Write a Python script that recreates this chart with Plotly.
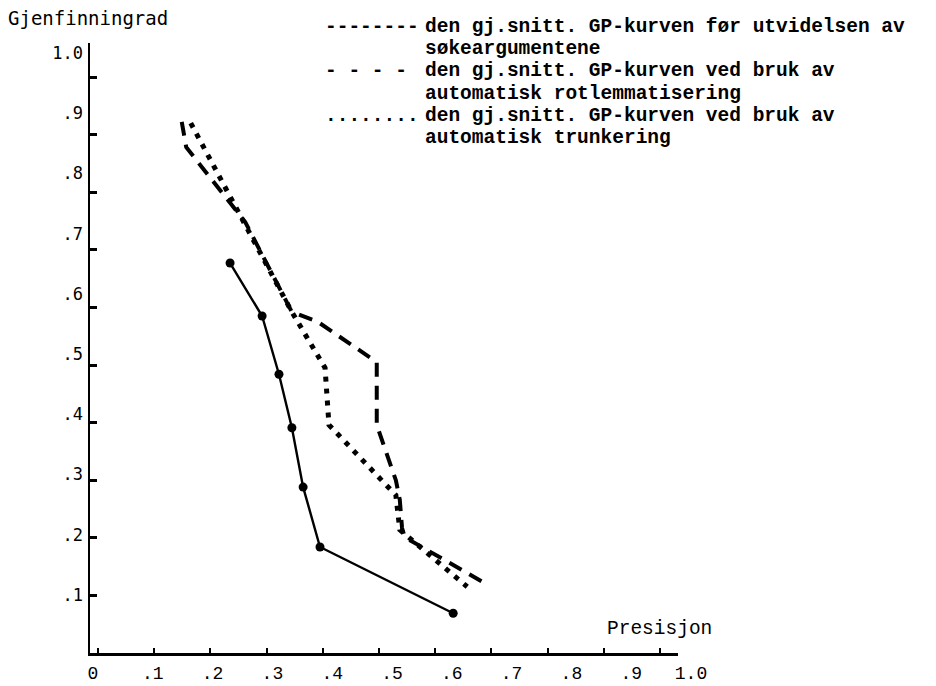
import plotly.graph_objects as go

# ---------------- data (precision = x, recall = y) ----------------
before_prec = [0.235, 0.292, 0.322, 0.345, 0.365, 0.395, 0.632]
before_rec = [0.677, 0.585, 0.484, 0.391, 0.288, 0.184, 0.069]

rotlem_prec = [0.149, 0.157, 0.217, 0.262, 0.345, 0.391, 0.496, 0.496, 0.530, 0.537, 0.541, 0.546, 0.685]
rotlem_rec = [0.922, 0.878, 0.804, 0.748, 0.592, 0.575, 0.505, 0.396, 0.300, 0.266, 0.217, 0.201, 0.123]

trunk_prec = [0.165, 0.345, 0.404, 0.411, 0.530, 0.537, 0.657]
trunk_rec = [0.920, 0.592, 0.495, 0.396, 0.274, 0.214, 0.115]

x_tick_vals = [0, 0.1, 0.2, 0.3, 0.4, 0.5, 0.6, 0.7, 0.8, 0.9, 1.0]
x_tick_text = ["0", ".1", ".2", ".3", ".4", ".5", ".6", ".7", ".8", ".9", "1.0"]
y_tick_vals = [0.1, 0.2, 0.3, 0.4, 0.5, 0.6, 0.7, 0.8, 0.9, 1.0]
y_tick_text = [".1", ".2", ".3", ".4", ".5", ".6", ".7", ".8", ".9", "1.0"]

y_title = "Gjenfinningrad"
x_title = "Presisjon"
legend_samples = ["--------", "- - - -", "........"]
legend_texts = [
    ["den gj.snitt. GP-kurven før utvidelsen av", "søkeargumentene"],
    ["den gj.snitt. GP-kurven ved bruk av", "automatisk rotlemmatisering"],
    ["den gj.snitt. GP-kurven ved bruk av", "automatisk trunkering"],
]

# ---------------- layout geometry (positions given in window pixels) ----------------
OFF = 8                      # page body margin of the browser
W, H = 936 - OFF, 686 - OFF  # figure size so the figure fills the window
AX_X, AX_Y = 90, 653         # y-axis line x, x-axis line y (window px)
TOP_PX, RIGHT_PX = 43, 700   # top of plot area, right end of label axis
L = AX_X - OFF
T = TOP_PX - OFF
R = (936 - RIGHT_PX)
B = H - (AX_Y - OFF)
PW, PH = W - L - R, H - T - B


def px2x(px):
    return (px - AX_X) / PW


def py2y(py):
    return (AX_Y - py) / PH


MONO = "Liberation Mono"
SANS_MONO = "DejaVu Sans Mono"
INK = "black"

fig = go.Figure()

# empty traces so that the label axes are drawn (added first, drawn below)
fig.add_trace(go.Scatter(x=[], y=[], xaxis="x2", yaxis="y", showlegend=False, hoverinfo="skip"))
fig.add_trace(go.Scatter(x=[], y=[], xaxis="x", yaxis="y2", showlegend=False, hoverinfo="skip"))

fig.add_trace(go.Scatter(
    x=before_prec, y=before_rec, mode="lines+markers",
    line=dict(color=INK, width=2.4),
    marker=dict(color=INK, size=9),
    showlegend=False, hoverinfo="skip"))

fig.add_trace(go.Scatter(
    x=rotlem_prec, y=rotlem_rec, mode="lines",
    line=dict(color=INK, width=4, dash="14px,9px"),
    showlegend=False, hoverinfo="skip"))

fig.add_trace(go.Scatter(
    x=trunk_prec, y=trunk_rec, mode="lines",
    line=dict(color=INK, width=5, dash="5px,7px"),
    showlegend=False, hoverinfo="skip"))

# data axes: tick marks placed as on the original drawing
x0_px, x_per_unit = 98, 562    # x tick "0" position and px per 1.0
y_per_unit = 576               # y px per 1.0
x_end_px = 678
fig.update_layout(
    xaxis=dict(domain=[0, (x_end_px - AX_X) / PW],
               range=[(AX_X - x0_px) / x_per_unit, (x_end_px - x0_px) / x_per_unit],
               anchor="y", showline=True, linecolor=INK, linewidth=2.5,
               ticks="inside", ticklen=5, tickwidth=1.5, tickcolor=INK,
               tickvals=x_tick_vals, showticklabels=False,
               showgrid=False, zeroline=False, automargin=False),
    yaxis=dict(domain=[0, 1], range=[0, PH / y_per_unit], anchor="x",
               showline=True, linecolor=INK, linewidth=2,
               ticks="inside", ticklen=7, tickwidth=2.5, tickcolor=INK,
               tickvals=y_tick_vals, showticklabels=False,
               showgrid=False, zeroline=False, automargin=False),
    # label axes: typed labels sit on a slightly wider scale
    xaxis2=dict(domain=[0, 1], anchor="y",
                range=[(AX_X - 93) / 598, (RIGHT_PX - 93) / 598],
                showline=False, ticks="", showgrid=False, zeroline=False,
                tickvals=x_tick_vals, ticktext=x_tick_text,
                tickfont=dict(family=MONO, size=18, color=INK),
                ticklabelstandoff=7, automargin=False),
    yaxis2=dict(overlaying="y", anchor="x", side="left",
                range=[(655 - AX_Y) / 602, (655 - TOP_PX) / 602],
                showline=False, ticks="", showgrid=False, zeroline=False,
                tickvals=y_tick_vals, ticktext=y_tick_text,
                tickfont=dict(family=SANS_MONO, size=17, color=INK),
                ticklabelstandoff=6, automargin=False),
)

annotations = []
annotations.append(dict(text=y_title, x=px2x(6), y=py2y(18), xref="paper", yref="paper",
                        xanchor="left", yanchor="middle", showarrow=False,
                        font=dict(family=SANS_MONO, size=19, color=INK)))
annotations.append(dict(text=x_title, x=px2x(605), y=py2y(629), xref="paper", yref="paper",
                        xanchor="left", yanchor="middle", showarrow=False,
                        font=dict(family=MONO, size=19.5, color=INK)))

line_ys = [27, 49, 71, 94, 116, 138]
for i, sample in enumerate(legend_samples):
    y0 = line_ys[2 * i]
    annotations.append(dict(text=sample, x=px2x(323), y=py2y(y0), xref="paper", yref="paper",
                            xanchor="left", yanchor="middle", showarrow=False,
                            font=dict(family=MONO, size=19.5, color=INK, weight="bold")))
    for j, txt in enumerate(legend_texts[i]):
        annotations.append(dict(text=txt, x=px2x(423), y=py2y(line_ys[2 * i + j]),
                                xref="paper", yref="paper",
                                xanchor="left", yanchor="middle", showarrow=False,
                                font=dict(family=MONO, size=19.5, color=INK, weight="bold")))

fig.update_layout(
    width=W, height=H,
    margin=dict(l=L, r=R, t=T, b=B, pad=0, autoexpand=False),
    paper_bgcolor="white", plot_bgcolor="rgba(0,0,0,0)",
    annotations=annotations,
    showlegend=False,
)

fig.write_html("out.html")
